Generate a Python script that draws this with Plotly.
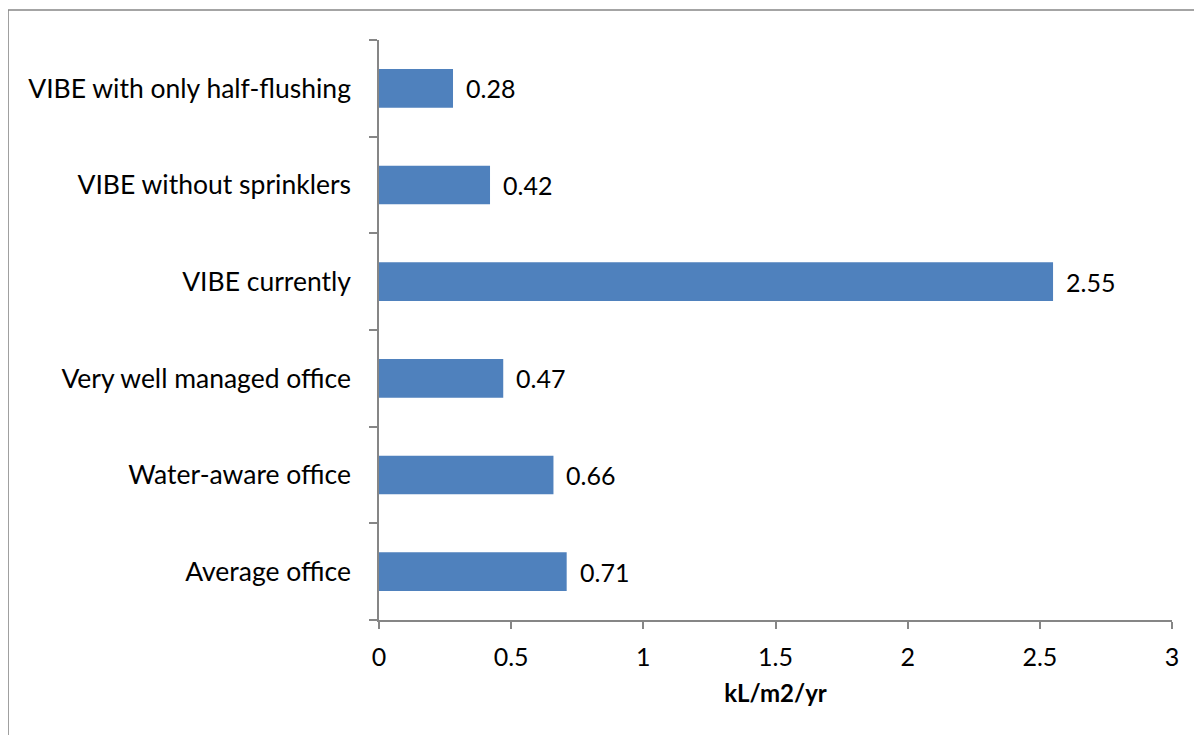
import plotly.graph_objects as go

categories = ["Average office", "Water-aware office", "Very well managed office",
              "VIBE currently", "VIBE without sprinklers", "VIBE with only half-flushing"]
values = [0.71, 0.66, 0.47, 2.55, 0.42, 0.28]
x_ticks = [0, 0.5, 1, 1.5, 2, 2.5, 3]
x_tick_labels = ["0", "0.5", "1", "1.5", "2", "2.5", "3"]
x_title = "kL/m2/yr"

FONT = "Lato"
FS = 25
AXIS_COLOR = "#868686"
BAR_COLOR = "#4F81BD"

fig = go.Figure()
fig.add_trace(go.Bar(
    x=values, y=categories, orientation="h",
    marker=dict(color=BAR_COLOR, line=dict(width=0)),
    width=0.4, showlegend=False, hoverinfo="x+y",
))

for v, c in zip(values, categories):
    fig.add_annotation(x=v, y=c, text=f"{v:.2f}", showarrow=False,
                       xanchor="left", yanchor="middle", xshift=11,
                       font=dict(family=FONT, size=FS, color="black"))

# Chart-area border (clipped at right/bottom as in the reference)
fig.add_shape(type="rect", xref="paper", yref="paper",
              x0=-0.4678, x1=1.06, y0=-0.25, y1=1.0517,
              line=dict(color=AXIS_COLOR, width=1.5), layer="below")

fig.update_layout(
    width=1202, height=735,
    margin=dict(l=371, r=38, t=32, b=123),
    paper_bgcolor="white", plot_bgcolor="white",
    font=dict(family=FONT, size=FS, color="black"),
    bargap=0.6,
    xaxis=dict(
        range=[0, 3], tickvals=x_ticks, ticktext=x_tick_labels,
        showgrid=False, zeroline=False,
        showline=True, linecolor=AXIS_COLOR, linewidth=1.5,
        ticks="outside", ticklen=7, tickcolor=AXIS_COLOR, tickwidth=1.5,
        tickfont=dict(family=FONT, size=FS, color="black"),
        ticklabelstandoff=7,
        title=dict(text=f"<b>{x_title}</b>", font=dict(family=FONT, size=24, color="black"), standoff=15),
    ),
    yaxis=dict(
        categoryorder="array", categoryarray=categories,
        range=[-0.5, 5.5],
        showgrid=False, zeroline=False,
        showline=True, linecolor=AXIS_COLOR, linewidth=1.5,
        ticks="outside", tickson="boundaries", ticklen=8, tickcolor=AXIS_COLOR, tickwidth=1.5,
        tickfont=dict(family=FONT, size=26.5, color="black"),
        ticklabelstandoff=21,
    ),
)

fig.write_html("out.html")
